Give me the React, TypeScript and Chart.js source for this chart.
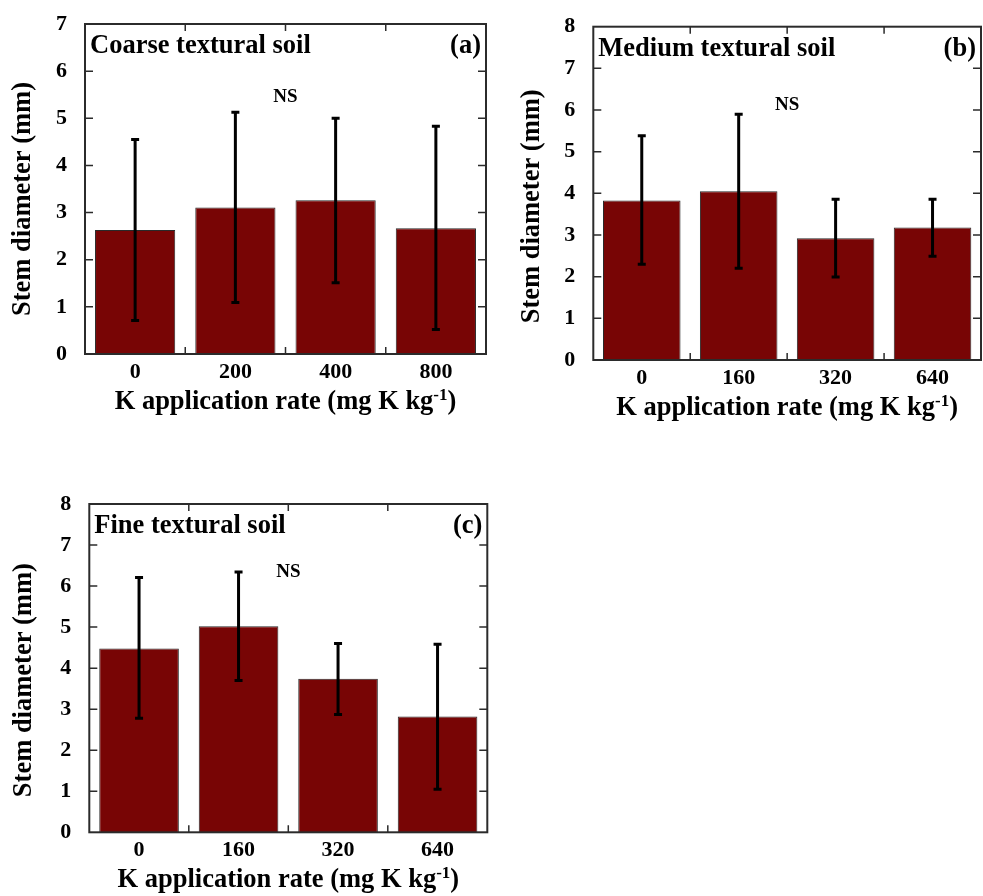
import React, { useEffect, useRef } from 'react';
import { Chart, registerables } from 'chart.js';
Chart.register(...registerables);

// ---------- data ----------
const coarseRates = ['0', '200', '400', '800'];
const coarseMeans = [2.63, 3.11, 3.26, 2.67];
const coarseUpper = [4.55, 5.13, 5.0, 4.83];
const coarseLower = [0.71, 1.09, 1.51, 0.52];

const mediumRates = ['0', '160', '320', '640'];
const mediumMeans = [3.83, 4.05, 2.92, 3.18];
const mediumUpper = [5.38, 5.9, 3.86, 3.86];
const mediumLower = [2.3, 2.2, 1.99, 2.49];

const fineRates = ['0', '160', '320', '640'];
const fineMeans = [4.48, 5.02, 3.74, 2.82];
const fineUpper = [6.21, 6.34, 4.6, 4.58];
const fineLower = [2.78, 3.7, 2.87, 1.05];

const panelTitles = ['Coarse textural soil', 'Medium textural soil', 'Fine textural soil'];
const panelLetters = ['(a)', '(b)', '(c)'];
const yMaxima = [7, 8, 8];
const nsLevels = [5.35, 6.0, 6.23];
const nsText = 'NS';
const yAxisTitle = 'Stem diameter (mm)';
const xTitleMain = 'K application rate (mg K kg';
const xTitleSup = '-1';
const xTitleEnd = ')';

const panelData = [
  { labels: coarseRates, means: coarseMeans, upper: coarseUpper, lower: coarseLower },
  { labels: mediumRates, means: mediumMeans, upper: mediumUpper, lower: mediumLower },
  { labels: fineRates, means: fineMeans, upper: fineUpper, lower: fineLower },
];

// ---------- layout / style ----------
const FONT = "'Liberation Serif', 'Times New Roman', serif";
const BAR_COLOR = '#780505';
const layouts = [
  { left: 0, top: 0, width: 490, height: 420, area: { l: 85, t: 24, r: 486, b: 354 }, yDx: -62, yDy: 10 },
  { left: 500, top: 0, width: 483, height: 430, area: { l: 93.3, t: 26.7, r: 481, b: 360 }, yDx: -61.6, yDy: 13 },
  { left: 0, top: 480, width: 490, height: 416, area: { l: 89.3, t: 24, r: 487.3, b: 352.3 }, yDx: -65, yDy: 12 },
];

function makePlugin(idx: number) {
  const d = panelData[idx];
  const lay = layouts[idx];
  return {
    id: 'panelDecor' + idx,
    afterDatasetsDraw(chart: any) {
      const ctx = chart.ctx as CanvasRenderingContext2D;
      const xs = chart.scales.x;
      const ys = chart.scales.y;
      const { left, right, top, bottom } = chart.chartArea;
      ctx.save();
      // error bars
      ctx.strokeStyle = '#000';
      ctx.lineWidth = 3;
      ctx.lineCap = 'butt';
      for (let i = 0; i < d.means.length; i++) {
        const x = xs.getPixelForValue(i);
        const yHi = ys.getPixelForValue(d.upper[i]);
        const yLo = ys.getPixelForValue(d.lower[i]);
        ctx.beginPath();
        ctx.moveTo(x, yHi);
        ctx.lineTo(x, yLo);
        ctx.moveTo(x - 4, yHi);
        ctx.lineTo(x + 4, yHi);
        ctx.moveTo(x - 4, yLo);
        ctx.lineTo(x + 4, yLo);
        ctx.stroke();
      }
      // frame
      ctx.strokeStyle = '#2b2b2b';
      ctx.lineWidth = 2;
      ctx.strokeRect(left, top, right - left, bottom - top);
      // inner ticks
      ctx.lineWidth = 1.5;
      ctx.beginPath();
      for (let v = 1; v < yMaxima[idx]; v++) {
        const y = ys.getPixelForValue(v);
        ctx.moveTo(left, y);
        ctx.lineTo(left + 8, y);
        ctx.moveTo(right, y);
        ctx.lineTo(right - 8, y);
      }
      for (let i = 1; i < d.means.length; i++) {
        const x = (xs.getPixelForValue(i - 1) + xs.getPixelForValue(i)) / 2;
        ctx.moveTo(x, bottom);
        ctx.lineTo(x, bottom - 7);
        ctx.moveTo(x, top);
        ctx.lineTo(x, top + 7);
      }
      ctx.stroke();
      // texts
      ctx.fillStyle = '#000';
      ctx.font = `bold 26.5px ${FONT}`;
      ctx.textBaseline = 'alphabetic';
      ctx.textAlign = 'left';
      ctx.fillText(panelTitles[idx], left + 5, top + 29);
      ctx.textAlign = 'right';
      ctx.fillText(panelLetters[idx], right - 5, top + 29);
      // NS
      ctx.font = `bold 19px ${FONT}`;
      ctx.textAlign = 'center';
      ctx.fillText(nsText, (left + right) / 2, ys.getPixelForValue(nsLevels[idx]));
      // x title with superscript
      ctx.textAlign = 'left';
      const mainFont = `bold 26.5px ${FONT}`;
      const supFont = `bold 17px ${FONT}`;
      ctx.font = mainFont;
      const w1 = ctx.measureText(xTitleMain).width;
      const w3 = ctx.measureText(xTitleEnd).width;
      ctx.font = supFont;
      const w2 = ctx.measureText(xTitleSup).width;
      const total = w1 + w2 + w3;
      const x0 = (left + right) / 2 - total / 2;
      const base = bottom + 55;
      ctx.font = mainFont;
      ctx.fillText(xTitleMain, x0, base);
      ctx.font = supFont;
      ctx.fillText(xTitleSup, x0 + w1, base - 9);
      ctx.font = mainFont;
      ctx.fillText(xTitleEnd, x0 + w1 + w2, base);
      // y title
      ctx.save();
      ctx.translate(left + lay.yDx, (top + bottom) / 2 + lay.yDy);
      ctx.rotate(-Math.PI / 2);
      ctx.textAlign = 'center';
      ctx.textBaseline = 'middle';
      ctx.font = `bold 26.5px ${FONT}`;
      ctx.fillText(yAxisTitle, 0, 0);
      ctx.restore();
      ctx.restore();
    },
  };
}

function Panel({ idx }: { idx: number }) {
  const ref = useRef<HTMLCanvasElement>(null);
  useEffect(() => {
    const lay = layouts[idx];
    const d = panelData[idx];
    const tickFont = { family: FONT, size: 22, weight: 'bold' as const };
    const chart = new Chart(ref.current as HTMLCanvasElement, {
      type: 'bar',
      data: {
        labels: d.labels,
        datasets: [
          {
            data: d.means,
            backgroundColor: BAR_COLOR,
            borderColor: '#2a2a2a',
            borderWidth: 1,
            barPercentage: 0.8,
            categoryPercentage: 1,
          },
        ],
      },
      options: {
        responsive: false,
        animation: false,
        devicePixelRatio: 1,
        layout: { padding: { left: 0, top: lay.area.t, right: lay.width - lay.area.r, bottom: 0 } },
        plugins: { legend: { display: false }, tooltip: { enabled: false } },
        scales: {
          x: {
            grid: { display: false },
            border: { display: false },
            ticks: { font: tickFont, color: '#000', padding: -3 },
            afterFit: (s: any) => {
              s.height = lay.height - lay.area.b;
            },
          },
          y: {
            min: 0,
            max: yMaxima[idx],
            grid: { display: false },
            border: { display: false },
            ticks: { stepSize: 1, font: tickFont, color: '#000', padding: 10 },
            afterFit: (s: any) => {
              s.width = lay.area.l;
            },
          },
        },
      },
      plugins: [makePlugin(idx)],
    });
    return () => chart.destroy();
  }, [idx]);
  const lay = layouts[idx];
  return (
    <canvas
      ref={ref}
      width={lay.width}
      height={lay.height}
      style={{ position: 'absolute', left: lay.left, top: lay.top, width: lay.width, height: lay.height }}
    />
  );
}

export default function App() {
  return (
    <div style={{ position: 'absolute', left: 0, top: 0, width: 983, height: 896, background: '#fff' }}>
      <Panel idx={0} />
      <Panel idx={1} />
      <Panel idx={2} />
    </div>
  );
}
